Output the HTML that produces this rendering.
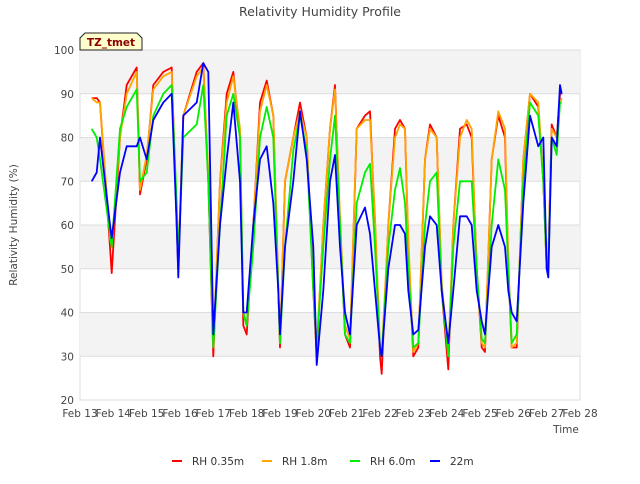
<!DOCTYPE html>
<html><head><meta charset="utf-8"><style>
body{margin:0;background:#fff;font-family:"DejaVu Sans","Liberation Sans",sans-serif}
svg text{font-family:"DejaVu Sans","Liberation Sans",sans-serif}
</style></head><body>
<svg id="chart" width="640" height="480" viewBox="0 0 640 480">
<text x="320" y="16" text-anchor="middle" font-size="12.5" fill="#444">Relativity Humidity Profile</text>
<g id="grid"></g>
<g id="axes"></g>
<g id="series"></g>
<g>
<path d="M80,50 L80,38 L85,33 L137,33 L142,38 L142,50 Z" fill="#ffffcc" stroke="#222" stroke-width="1"/>
<text x="111" y="46" text-anchor="middle" font-size="10.5" font-weight="bold" fill="#8b0000">TZ_tmet</text>
</g>
<text transform="translate(17,225) rotate(-90)" text-anchor="middle" font-size="10.5" fill="#444">Relativity Humidity (%)</text>
<text x="566" y="433" text-anchor="middle" font-size="10.5" fill="#444">Time</text>
<g id="legend"></g>
</svg>
<script>
const times=[0.35,0.5,0.6,0.9,0.95,1.2,1.4,1.7,1.8,2.0,2.2,2.5,2.75,2.9,2.95,3.1,3.5,3.7,3.85,4.0,4.2,4.4,4.6,4.8,4.9,5.0,5.2,5.4,5.6,5.8,5.95,6.0,6.15,6.4,6.6,6.8,7.0,7.1,7.3,7.5,7.65,7.8,7.95,8.1,8.3,8.55,8.7,8.85,9.0,9.05,9.25,9.45,9.6,9.75,9.85,10.0,10.15,10.35,10.5,10.7,10.85,11.05,11.2,11.4,11.6,11.75,11.9,12.05,12.15,12.35,12.55,12.75,12.85,12.95,13.1,13.3,13.5,13.75,13.9,14.0,14.05,14.15,14.3,14.4,14.45];
const rh035=[89,89,88,55,49,80,92,96,67,75,92,95,96,60,50,85,95,97,70,30,70,90,95,80,37,35,60,88,93,85,45,32,70,80,88,80,45,30,60,82,92,60,35,32,82,85,86,60,30,26,60,82,84,82,55,30,32,75,83,80,45,27,60,82,83,80,50,32,31,75,85,80,50,32,32,75,90,87,70,50,52,83,80,90,90];
const rh18=[89,88,88,57,55,80,90,95,68,76,91,94,95,62,52,85,94,96,72,32,70,88,94,82,40,37,60,86,92,85,47,33,70,80,86,80,47,32,60,82,91,62,37,34,82,84,84,62,32,30,60,80,83,82,57,31,33,75,82,80,47,30,60,80,84,82,50,33,32,75,86,82,52,32,33,75,90,88,70,50,52,82,80,88,89];
const rh60=[82,80,75,58,55,82,87,91,70,72,85,90,92,65,52,80,83,92,70,32,60,85,90,80,40,37,55,80,87,80,45,33,55,77,85,77,45,32,55,75,85,60,35,33,65,72,74,55,32,30,55,68,73,65,50,32,33,60,70,72,45,30,55,70,70,70,50,34,33,60,75,68,50,33,35,70,88,85,70,50,50,80,76,88,88];
const rh22=[70,72,80,60,57,72,78,78,80,75,84,88,90,60,48,85,88,97,95,35,60,75,88,70,40,40,60,75,78,65,45,35,55,70,86,75,55,28,45,70,76,55,40,35,60,64,58,45,32,30,50,60,60,58,45,35,36,55,62,60,45,33,45,62,62,60,45,38,35,55,60,55,45,40,38,65,85,78,80,50,48,80,78,92,90];
const yTicks=[20,30,40,50,60,70,80,90,100];
const xTicks=["Feb 13","Feb 14","Feb 15","Feb 16","Feb 17","Feb 18","Feb 19","Feb 20","Feb 21","Feb 22","Feb 23","Feb 24","Feb 25","Feb 26","Feb 27","Feb 28"];
const seriesNames=["RH 0.35m","RH 1.8m","RH 6.0m","22m"];
const NS="http://www.w3.org/2000/svg";
const L=80,R=580,T=50,B=400;
const xs=d=>L+d*(R-L)/15;
const ys=v=>B-(v-20)*(B-T)/80;
function mk(tag,attrs,parent){const e=document.createElementNS(NS,tag);for(const k in attrs)e.setAttribute(k,attrs[k]);parent.appendChild(e);return e;}
const grid=document.getElementById('grid'),axes=document.getElementById('axes'),ser=document.getElementById('series'),leg=document.getElementById('legend');
mk('rect',{x:L,y:T,width:R-L,height:B-T,fill:'#fff',stroke:'#ddd'},grid);
for(let i=0;i<yTicks.length-1;i++){
  if(i%2===1){const b=mk('rect',{x:L,y:ys(yTicks[i+1]),width:R-L,height:ys(yTicks[i])-ys(yTicks[i+1]),fill:'#f3f3f3'},grid);
  
  }
}
yTicks.forEach(v=>{
  mk('line',{x1:L,x2:R,y1:ys(v),y2:ys(v),stroke:'#ddd'},grid);
  const t=mk('text',{x:L-6,y:ys(v)+4,'text-anchor':'end','font-size':10.5,fill:'#444'},axes);t.textContent=v;
  
  
});
xTicks.forEach((s,i)=>{
  const t=mk('text',{x:xs(i),y:B+17,'text-anchor':'middle','font-size':10.5,fill:'#444'},axes);t.textContent=s;
  
  
});
const data=[rh035,rh18,rh60,rh22],cols=['#ff0000','#ffa500','#00ee00','#0000ff'];
data.forEach((arr,si)=>{
  const n=Math.min(arr.length,times.length);let d='';
  for(let i=0;i<n;i++)d+=(i?'L':'M')+xs(times[i]).toFixed(1)+','+ys(arr[i]).toFixed(1);
  const p=mk('path',{d:d,fill:'none',stroke:cols[si],'stroke-width':1.8,'stroke-linejoin':'round'},ser);
  
  
});
const lx=[172,262,350,430];
seriesNames.forEach((s,i)=>{
  const g=mk('g',{},leg);
  
  
  mk('line',{x1:lx[i],x2:lx[i]+10,y1:461,y2:461,stroke:cols[i],'stroke-width':2},g);
  const t=mk('text',{x:lx[i]+20,y:465,'font-size':10.5,fill:'#333'},g);t.textContent=s;
});
</script>
</body></html>
